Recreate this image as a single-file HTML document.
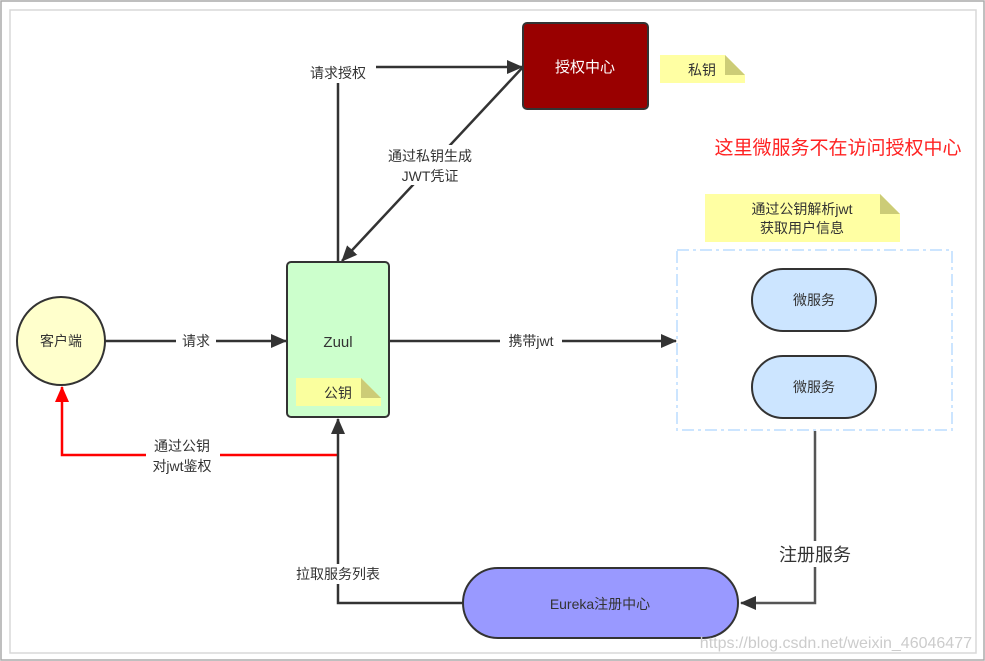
<!DOCTYPE html>
<html><head><meta charset="utf-8"><style>
html,body{margin:0;padding:0;background:#fff;}
svg{display:block;font-family:"Liberation Sans","Noto Sans CJK SC",sans-serif;}
</style></head><body>
<svg width="985" height="661" viewBox="0 0 985 661" xmlns="http://www.w3.org/2000/svg">
<defs>
<marker id="b" markerWidth="16" markerHeight="14" refX="15" refY="7" orient="auto" markerUnits="userSpaceOnUse"><path d="M0,0 L16,7 L0,14 Z" fill="#333"/></marker>
<marker id="r" markerWidth="16" markerHeight="14" refX="15" refY="7" orient="auto" markerUnits="userSpaceOnUse"><path d="M0,0 L16,7 L0,14 Z" fill="#f00"/></marker>
</defs>
<rect x="1" y="1" width="983" height="659" fill="none" stroke="#aaa" stroke-width="1.5"/>
<rect x="10" y="10" width="966" height="643" fill="none" stroke="#d8d8d8" stroke-width="1.5"/>

<line x1="338" y1="82" x2="338" y2="262" stroke="#333" stroke-width="2.5"/>
<line x1="338" y1="67" x2="522" y2="67" stroke="#333" stroke-width="2.5" marker-end="url(#b)"/>
<line x1="523" y1="67" x2="342" y2="261" stroke="#333" stroke-width="2.5" marker-end="url(#b)"/>
<line x1="105" y1="341" x2="286" y2="341" stroke="#333" stroke-width="2.5" marker-end="url(#b)"/>
<line x1="389" y1="341" x2="676" y2="341" stroke="#333" stroke-width="2.5" marker-end="url(#b)"/>
<polyline points="338,455 62,455 62,387" fill="none" stroke="#f00" stroke-width="2.5" marker-end="url(#r)"/>
<polyline points="463,603 338,603 338,419" fill="none" stroke="#333" stroke-width="2.5" marker-end="url(#b)"/>
<polyline points="815,431 815,603 741,603" fill="none" stroke="#555" stroke-width="2.5" marker-end="url(#b)"/>

<rect x="300" y="63" width="76" height="20" fill="#fff"/>
<rect x="378" y="145" width="104" height="40" fill="#fff"/>
<rect x="176" y="332" width="40" height="18" fill="#fff"/>
<rect x="500" y="332" width="62" height="18" fill="#fff"/>
<rect x="146" y="435" width="74" height="40" fill="#fff"/>
<rect x="286" y="564" width="104" height="20" fill="#fff"/>
<rect x="770" y="541" width="90" height="26" fill="#fff"/>

<g font-size="14" fill="#333" text-anchor="middle">
<text x="338" y="78">请求授权</text>
<text x="430" y="161">通过私钥生成</text>
<text x="430" y="181">JWT凭证</text>
<text x="196" y="346">请求</text>
<text x="531" y="346">携带jwt</text>
<text x="182" y="451">通过公钥</text>
<text x="182" y="471">对jwt鉴权</text>
<text x="338" y="579">拉取服务列表</text>
</g>
<text x="815" y="561" font-size="18" fill="#333" text-anchor="middle">注册服务</text>

<rect x="523" y="23" width="125" height="86" rx="4" fill="#990000" stroke="#333" stroke-width="2"/>
<text x="585" y="72" font-size="15" fill="#fff" text-anchor="middle">授权中心</text>
<path d="M660,55 L725,55 L745,75 L745,83 L660,83 Z" fill="#ffff99" opacity="0.9"/>
<path d="M725,55 L745,75 L725,75 Z" fill="#cccc77"/>
<text x="702" y="75" font-size="14" fill="#333" text-anchor="middle">私钥</text>

<text x="838" y="154" font-size="19" fill="#f22" text-anchor="middle">这里微服务不在访问授权中心</text>

<path d="M705,194 L880,194 L900,214 L900,242 L705,242 Z" fill="#ffff99" opacity="0.9"/>
<path d="M880,194 L900,214 L880,214 Z" fill="#cccc77"/>
<text x="802" y="214" font-size="14" fill="#333" text-anchor="middle">通过公钥解析jwt</text>
<text x="802" y="233" font-size="14" fill="#333" text-anchor="middle">获取用户信息</text>

<rect x="677" y="250" width="275" height="180" fill="none" stroke="#cce5ff" stroke-width="2" stroke-dasharray="12,4,3,4"/>
<rect x="752" y="269" width="124" height="62" rx="31" fill="#cce5ff" stroke="#333" stroke-width="2"/>
<text x="814" y="305" font-size="14" fill="#333" text-anchor="middle">微服务</text>
<rect x="752" y="356" width="124" height="62" rx="31" fill="#cce5ff" stroke="#333" stroke-width="2"/>
<text x="814" y="392" font-size="14" fill="#333" text-anchor="middle">微服务</text>

<rect x="287" y="262" width="102" height="155" rx="4" fill="#ccffcc" stroke="#333" stroke-width="2"/>
<text x="338" y="347" font-size="15" fill="#333" text-anchor="middle">Zuul</text>
<path d="M296,378 L361,378 L381,398 L381,406 L296,406 Z" fill="#ffff99" opacity="0.9"/>
<path d="M361,378 L381,398 L361,398 Z" fill="#cccc77"/>
<text x="338" y="398" font-size="14" fill="#333" text-anchor="middle">公钥</text>

<circle cx="61" cy="341" r="44" fill="#ffffcc" stroke="#333" stroke-width="2"/>
<text x="61" y="346" font-size="14" fill="#333" text-anchor="middle">客户端</text>

<rect x="463" y="568" width="275" height="70" rx="35" fill="#9999ff" stroke="#333" stroke-width="2"/>
<text x="600" y="609" font-size="14" fill="#333" text-anchor="middle">Eureka注册中心</text>

<text x="972" y="648" font-size="16" fill="#ccc" text-anchor="end">https://blog.csdn.net/weixin_46046477</text>
</svg>
</body></html>
